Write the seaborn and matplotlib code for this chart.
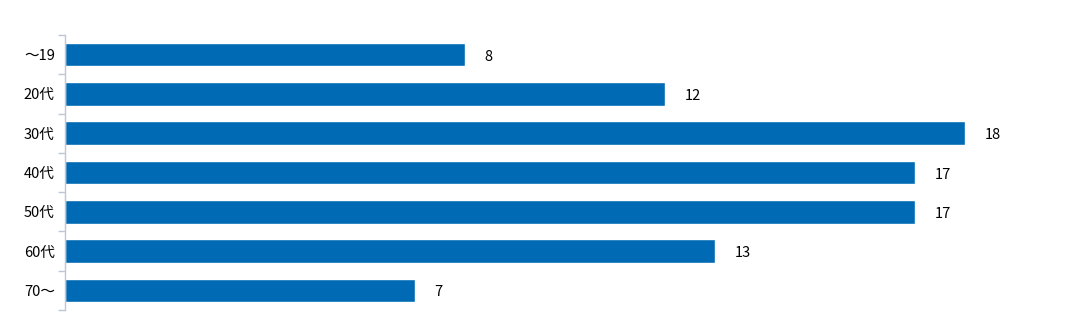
import matplotlib
matplotlib.use("Agg")
import matplotlib.pyplot as plt
from matplotlib.ticker import FixedLocator
import seaborn as sns
import pandas as pd

categories = ["～19", "20代", "30代", "40代", "50代", "60代", "70～"]
values = [8, 12, 18, 17, 17, 13, 7]
value_labels = ["8", "12", "18", "17", "17", "13", "7"]

sns.set_style("white")
plt.rcParams['font.family'] = ['Noto Sans CJK JP', 'DejaVu Sans']

df = pd.DataFrame({"cat": categories, "val": values})

fig = plt.figure(figsize=(10.88, 3.24), dpi=100)
ax = fig.add_axes([64.5/1088, 14/324, 1000/1088, 275/324])
sns.barplot(data=df, x="val", y="cat", orient="h", color="#006ab4",
            saturation=1, width=0.6, ax=ax)
ax.set_xlim(0, 20)
ax.set_ylim(6.5, -0.5)
ax.set_xlabel("")
ax.set_ylabel("")
ax.set_xticks([])

for s in ["top", "right", "bottom"]:
    ax.spines[s].set_visible(False)
ax.spines["left"].set_color("#bcc6d6")
ax.spines["left"].set_linewidth(1)

ax.yaxis.set_minor_locator(FixedLocator([i - 0.5 for i in range(len(categories) + 1)]))
ax.tick_params(axis="y", which="major", length=0, pad=7, labelsize=10.5, labelcolor="#000000")
ax.tick_params(axis="y", which="minor", length=5, color="#bcc6d6", width=1, left=True)

for i, (v, t) in enumerate(zip(values, value_labels)):
    ax.annotate(t, xy=(v, i), xytext=(20, -2), textcoords="offset pixels",
                ha="left", va="center", fontsize=10.5, color="#000000")

fig.savefig("out.png", dpi=100)
